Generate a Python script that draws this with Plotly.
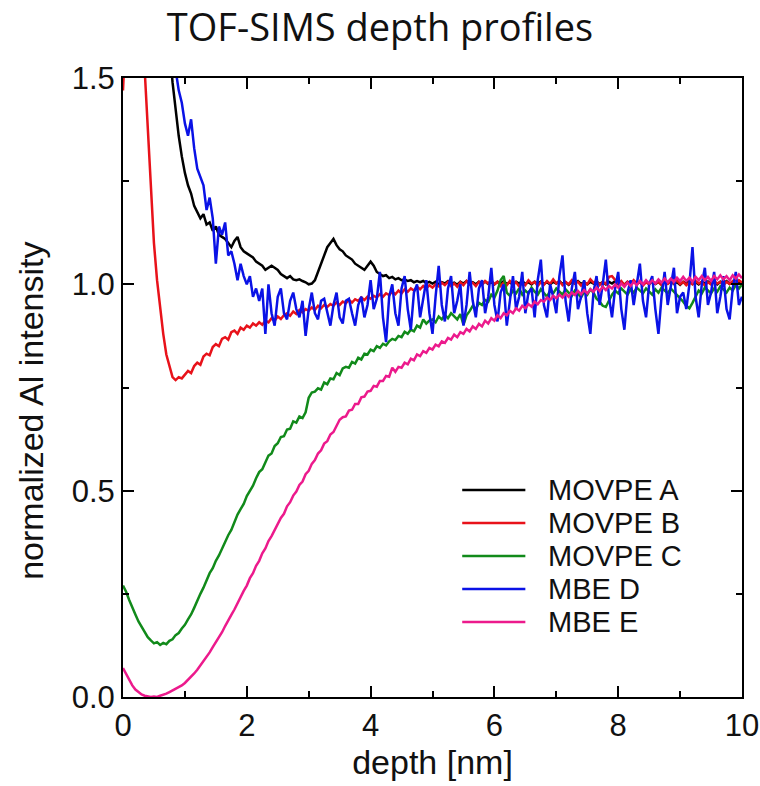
import plotly.graph_objects as go

# depth grid [nm], 0.05 nm sampling
depth = [round(i * 0.05, 2) for i in range(201)]

movpe_a = [
    None, None, None, None, None, None, None, None, None, None, None, None, None, None,
    1.75, 1.58, 1.49, 1.42, 1.36, 1.31,
    1.27, 1.24, 1.22, 1.19, 1.175, 1.16, 1.17, 1.145, 1.15, 1.13, 1.14, 1.12, 1.115, 1.11, 1.10, 1.09, 1.105, 1.115, 1.09, 1.08,
    1.075, 1.07, 1.065, 1.055, 1.05, 1.045, 1.035, 1.04, 1.045, 1.04, 1.035, 1.025, 1.02, 1.015, 1.02, 1.012, 1.01, 1.012, 1.008, 1.005,
    1.0, 1.002, 1.01, 1.03, 1.05, 1.07, 1.09, 1.10, 1.11, 1.095, 1.085, 1.08, 1.07, 1.065, 1.06, 1.05, 1.045, 1.04, 1.035, 1.045,
    1.055, 1.045, 1.03, 1.025, 1.02, 1.022, 1.015, 1.018, 1.012, 1.015, 1.01, 1.012, 1.008, 1.01, 1.005, 1.008, 1.005, 1.008, 1.003, 1.006,
    1.002, 1.006, 1.000, 1.005, 1.002, 1.008, 1.001, 1.004, 0.999, 1.006, 1.002, 1.008, 1.001, 1.005, 1.000, 1.006, 1.002, 1.007, 1.001, 1.005,
    1.000, 1.006, 1.002, 1.008, 1.001, 1.005, 0.999, 1.006, 1.002, 1.008, 1.001, 1.005, 1.000, 1.006, 1.002, 1.007, 1.001, 1.005, 1.000, 1.006,
    1.002, 1.008, 1.001, 1.005, 0.999, 1.006, 1.002, 1.008, 1.001, 1.005, 1.000, 1.006, 1.002, 1.007, 1.001, 1.005, 1.000, 1.006, 1.002, 1.008,
    1.001, 1.005, 0.999, 1.006, 1.002, 1.008, 1.001, 1.005, 1.000, 1.006, 1.002, 1.007, 1.001, 1.005, 1.000, 1.006, 1.002, 1.008, 1.001, 1.005,
    0.999, 1.006, 1.002, 1.008, 1.001, 1.005, 1.000, 1.006, 1.002, 1.007, 1.001, 1.005, 1.000, 1.006, 1.002, 1.008, 1.001, 1.005, 0.999, 1.006,
    1.002,
]

movpe_b = [
    1.470, 1.650, 1.850, 1.950, 1.900, 1.800, 1.660, 1.520, 1.380, 1.240, 1.100, 1.010, 0.940, 0.880, 0.830, 0.800, 0.775, 0.768, 0.775, 0.772,
    0.780, 0.790, 0.785, 0.802, 0.810, 0.805, 0.825, 0.832, 0.828, 0.848, 0.855, 0.850, 0.868, 0.872, 0.866, 0.884, 0.888, 0.880, 0.895, 0.890,
    0.900, 0.895, 0.905, 0.900, 0.908, 0.902, 0.912, 0.908, 0.918, 0.912, 0.922, 0.916, 0.925, 0.930, 0.924, 0.934, 0.928, 0.938, 0.932, 0.940,
    0.936, 0.944, 0.938, 0.948, 0.942, 0.950, 0.945, 0.952, 0.948, 0.956, 0.950, 0.958, 0.954, 0.962, 0.956, 0.964, 0.960, 0.968, 0.962, 0.970,
    0.965, 0.972, 0.968, 0.976, 0.970, 0.978, 0.974, 0.982, 0.976, 0.985, 0.978, 0.988, 0.982, 0.990, 0.985, 0.994, 0.988, 0.996, 0.990, 0.998,
    0.992, 1.000, 0.995, 1.004, 0.998, 1.006, 0.996, 1.002, 0.994, 1.005, 0.998, 1.008, 1.000, 1.004, 0.996, 1.006, 0.998, 1.008, 1.002, 1.010,
    1.000, 1.006, 0.996, 1.004, 0.998, 1.008, 1.000, 1.005, 0.995, 1.004, 0.998, 1.010, 1.002, 1.006, 0.996, 1.005, 0.999, 1.008, 1.001, 1.012,
    1.002, 1.008, 0.998, 1.006, 1.000, 1.010, 1.002, 1.006, 0.997, 1.005, 1.000, 1.012, 1.004, 1.008, 0.998, 1.006, 1.001, 1.018, 1.020, 1.010,
    1.002, 1.008, 0.998, 1.006, 1.000, 1.010, 1.002, 1.006, 0.997, 1.005, 1.000, 1.008, 1.002, 1.006, 0.998, 1.006, 1.001, 1.008, 1.002, 1.010,
    1.000, 1.006, 0.998, 1.005, 1.000, 1.008, 1.002, 1.006, 0.997, 1.005, 1.000, 1.008, 1.002, 1.006, 0.998, 1.006, 1.001, 1.008, 1.002, 1.010,
    1.004,
]

movpe_c = [
    0.270, 0.255, 0.235, 0.215, 0.200, 0.183, 0.170, 0.155, 0.145, 0.137, 0.130, 0.133, 0.126, 0.131, 0.128, 0.136, 0.140, 0.150, 0.155, 0.166,
    0.175, 0.188, 0.200, 0.216, 0.235, 0.250, 0.265, 0.282, 0.300, 0.312, 0.330, 0.343, 0.360, 0.378, 0.392, 0.405, 0.425, 0.442, 0.455, 0.468,
    0.487, 0.500, 0.512, 0.530, 0.545, 0.552, 0.570, 0.585, 0.590, 0.608, 0.615, 0.630, 0.632, 0.648, 0.650, 0.668, 0.665, 0.680, 0.676, 0.690,
    0.725, 0.738, 0.740, 0.748, 0.745, 0.762, 0.758, 0.772, 0.770, 0.785, 0.780, 0.796, 0.800, 0.798, 0.812, 0.808, 0.822, 0.818, 0.832, 0.830,
    0.842, 0.838, 0.850, 0.846, 0.856, 0.852, 0.862, 0.868, 0.865, 0.875, 0.872, 0.885, 0.880, 0.890, 0.886, 0.900, 0.895, 0.915, 0.905, 0.912,
    0.915, 0.908, 0.922, 0.915, 0.926, 0.918, 0.930, 0.922, 0.915, 0.928, 0.902, 0.925, 0.935, 0.948, 0.940, 0.955, 0.950, 0.962, 0.958, 0.975,
    0.968, 0.985, 1.010, 1.020, 0.980, 0.972, 0.985, 0.978, 0.990, 0.975, 0.985, 0.978, 0.992, 0.982, 0.975, 0.988, 0.980, 0.970, 0.985, 0.978,
    0.990, 0.982, 0.975, 0.988, 0.980, 0.972, 0.985, 0.978, 0.968, 0.982, 0.975, 0.988, 0.980, 0.965, 0.958, 0.948, 0.945, 0.962, 0.975, 0.985,
    0.978, 0.990, 0.982, 0.975, 0.988, 0.980, 0.992, 0.985, 0.978, 0.990, 0.982, 0.975, 0.988, 0.980, 0.992, 0.985, 0.978, 0.990, 0.982, 0.975,
    0.968, 0.958, 0.948, 0.942, 0.955, 0.972, 0.985, 0.978, 0.992, 0.985, 0.978, 0.990, 0.982, 0.995, 0.988, 0.980, 0.992, 0.985, 0.998, 0.990,
    1.000,
]

mbe_d = [
    None, None, None, None, None, None, None, None, None, None, None, None, None, None, None, None,
    1.62, 1.52, 1.47, 1.44,
    1.39, 1.36, 1.40, 1.33, 1.28, 1.26, 1.24, 1.18, 1.21, 1.16, 1.05, 1.14, 1.12, 1.15, 1.07, 1.08, 1.05, 1.01, 1.05, 1.02,
    1.00, 1.02, 0.97, 0.99, 0.96, 0.99, 0.88, 1.00, 0.93, 0.90, 0.97, 0.99, 0.93, 0.915, 0.96, 0.98, 0.94, 0.92, 0.96, 0.875,
    0.94, 0.98, 0.93, 0.915, 0.96, 0.965, 0.93, 0.90, 0.95, 0.98, 0.92, 0.905, 0.96, 0.965, 0.93, 0.90, 0.95, 0.97, 0.92, 0.95,
    1.01, 0.94, 0.965, 1.03, 0.92, 0.86, 0.97, 1.00, 0.93, 0.90, 0.99, 1.02, 0.94, 0.89, 0.98, 1.00, 0.92, 0.96, 1.01, 0.93,
    0.88, 0.97, 1.045, 0.95, 0.91, 0.99, 1.02, 0.93, 0.96, 1.00, 0.90, 0.95, 1.03, 0.96, 0.92, 0.99, 1.01, 0.93, 0.97, 1.04,
    0.95, 0.91, 0.98, 1.00, 0.90, 0.96, 1.02, 0.94, 0.97, 1.03, 0.93, 0.98, 0.99, 0.92, 1.01, 1.06, 0.95, 0.92, 1.00, 0.97,
    0.93, 1.02, 1.07, 0.96, 0.91, 0.99, 1.03, 0.94, 0.97, 1.01, 0.93, 0.88, 0.98, 1.02, 0.95, 1.00, 1.06, 0.97, 0.92, 0.99,
    1.03, 0.94, 0.89, 0.98, 1.01, 0.95, 1.00, 1.05, 0.96, 0.92, 1.00, 1.02, 0.94, 0.88, 0.97, 1.03, 0.95, 0.99, 1.04, 0.93,
    0.97, 0.98, 0.94, 1.00, 1.09, 0.97, 0.92, 1.00, 1.04, 0.95, 0.98, 1.03, 0.93, 0.97, 1.02, 0.94, 0.915, 0.99, 1.03, 0.95,
    0.97,
]

mbe_e = [
    0.070, 0.055, 0.040, 0.028, 0.018, 0.011, 0.006, 0.003, 0.001, 0.000, 0.001, 0.000, 0.003, 0.005, 0.008, 0.012, 0.016, 0.020, 0.022, 0.028,
    0.034, 0.041, 0.049, 0.057, 0.066, 0.076, 0.086, 0.098, 0.108, 0.121, 0.132, 0.146, 0.157, 0.172, 0.184, 0.199, 0.212, 0.228, 0.240, 0.257,
    0.270, 0.288, 0.300, 0.318, 0.330, 0.348, 0.360, 0.378, 0.390, 0.406, 0.418, 0.434, 0.444, 0.462, 0.472, 0.488, 0.498, 0.514, 0.522, 0.540,
    0.548, 0.565, 0.574, 0.590, 0.598, 0.614, 0.620, 0.636, 0.642, 0.658, 0.672, 0.678, 0.680, 0.694, 0.696, 0.710, 0.710, 0.726, 0.728, 0.740,
    0.742, 0.754, 0.752, 0.766, 0.766, 0.778, 0.776, 0.798, 0.788, 0.800, 0.798, 0.810, 0.806, 0.820, 0.816, 0.830, 0.826, 0.838, 0.834, 0.846,
    0.842, 0.854, 0.850, 0.862, 0.858, 0.870, 0.866, 0.878, 0.872, 0.884, 0.880, 0.892, 0.886, 0.898, 0.892, 0.904, 0.898, 0.912, 0.905, 0.918,
    0.912, 0.925, 0.918, 0.930, 0.925, 0.936, 0.930, 0.942, 0.936, 0.948, 0.942, 0.952, 0.946, 0.958, 0.952, 0.962, 0.958, 0.968, 0.962, 0.972,
    0.966, 0.975, 0.968, 0.978, 0.970, 0.980, 0.974, 0.984, 0.976, 0.986, 0.978, 0.988, 0.982, 0.992, 0.984, 0.994, 0.986, 0.996, 0.990, 1.000,
    0.992, 1.002, 0.994, 1.004, 0.996, 1.006, 0.998, 1.008, 1.000, 1.010, 1.002, 1.010, 1.002, 1.012, 1.004, 1.014, 1.005, 1.014, 1.006, 1.016,
    1.008, 1.018, 1.008, 1.016, 1.006, 1.018, 1.010, 1.020, 1.010, 1.018, 1.008, 1.020, 1.012, 1.022, 1.012, 1.020, 1.010, 1.022, 1.014, 1.024,
    1.015,
]

names = ["MOVPE A", "MOVPE B", "MOVPE C", "MBE D", "MBE E"]
colors = ["#000000", "#e8121a", "#118a1a", "#0a12e6", "#ec1a8c"]
series = [movpe_a, movpe_b, movpe_c, mbe_d, mbe_e]

x_ticks = [0, 2, 4, 6, 8, 10]
y_ticks = [0.0, 0.5, 1.0, 1.5]

for s in series:
    assert len(s) == len(depth), len(s)

fig = go.Figure()
for name, ys, col in zip(names, series, colors):
    fig.add_trace(go.Scatter(x=depth, y=ys, mode="lines", name=name, showlegend=False,
                             line=dict(color=col, width=2.5)))

FONT = "Liberation Sans, Arial, sans-serif"
tick_font = dict(family=FONT, size=31, color="#111111")
title_font = dict(family=FONT, size=34, color="#111111")
common = dict(showgrid=False, zeroline=False, showline=True, linecolor="#000000",
              linewidth=2, mirror="ticks", ticks="inside", ticklen=11, tickwidth=2,
              tickcolor="#000000", tickfont=tick_font, automargin=False)

# legend drawn inside the plot area (line sample + label), rows 33 px apart
leg_shapes, leg_annos = [], []
row0, drow = 0.3344, 0.0533
for i, (name, col) in enumerate(zip(names, colors)):
    yy = row0 - i * drow
    leg_shapes.append(dict(type="line", xref="paper", yref="paper", x0=0.548, x1=0.650,
                           y0=yy, y1=yy, line=dict(color=col, width=2.6)))
    leg_annos.append(dict(text=name, xref="paper", yref="paper", x=0.683, y=yy,
                          xanchor="left", yanchor="middle", showarrow=False,
                          font=dict(family=FONT, size=29, color="#111111")))

# y-axis title placed as in the reference (slightly below the plot centre)
leg_annos.append(dict(text="normalized Al intensity", xref="paper", yref="paper",
                      x=-0.149, y=0.462, xanchor="center", yanchor="middle",
                      textangle=-90, showarrow=False, font=title_font))

fig.update_layout(
    width=760, height=786,
    margin=dict(l=123, r=18, t=78, b=89),
    paper_bgcolor="white", plot_bgcolor="white",
    title=dict(text="TOF-SIMS depth profiles", x=0.5, xanchor="center",
               y=1 - 28 / 786, yanchor="middle", yref="container",
               font=dict(family="Open Sans, Noto Sans, sans-serif", size=38, color="#111111")),
    xaxis=dict(range=[0, 10], tickvals=x_ticks, ticktext=[str(v) for v in x_ticks],
               minor=dict(ticks="inside", ticklen=6, tickwidth=2, tickcolor="#000000", dtick=1, tick0=0),
               title=dict(text="depth [nm]", font=title_font, standoff=6), **common),
    yaxis=dict(range=[0, 1.5], tickvals=y_ticks, ticktext=[f"{v:.1f}" for v in y_ticks],
               minor=dict(ticks="inside", ticklen=6, tickwidth=2, tickcolor="#000000", dtick=0.25, tick0=0),
               **common),
    shapes=leg_shapes,
    annotations=leg_annos,
    showlegend=False,
)

fig.write_html("out.html")
